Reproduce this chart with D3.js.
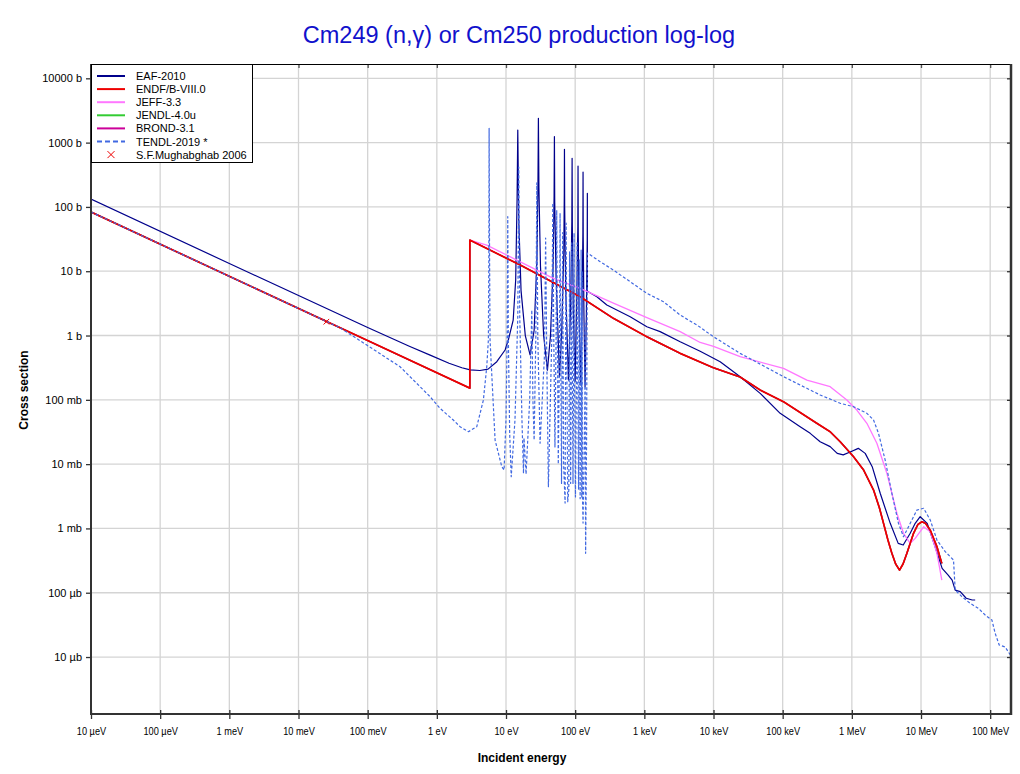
<!DOCTYPE html>
<html><head><meta charset="utf-8">
<script src="https://cdn.jsdelivr.net/npm/d3@7"></script>
<style>
body{margin:0;background:#fff;}
svg{display:block;font-family:"Liberation Sans",Arial,Helvetica,sans-serif;}
</style>
</head><body>
<svg id="chart" width="1020" height="774"></svg>
<script>
// ---------------- data ----------------
const titleText = "Cm249 (n,\u03b3) or Cm250 production log-log";
const xTickValues = [1e-5,1e-4,1e-3,1e-2,1e-1,1,1e1,1e2,1e3,1e4,1e5,1e6,1e7,1e8];
const xTickLabels = ["10 \u00b5eV","100 \u00b5eV","1 meV","10 meV","100 meV","1 eV","10 eV","100 eV","1 keV","10 keV","100 keV","1 MeV","10 MeV","100 MeV"];
const yTickValues = [1e4,1e3,1e2,1e1,1,1e-1,1e-2,1e-3,1e-4,1e-5];
const yTickLabels = ["10000 b","1000 b","100 b","10 b","1 b","100 mb","10 mb","1 mb","100 \u00b5b","10 \u00b5b"];
const legendNames = ["EAF-2010","ENDF/B-VIII.0","JEFF-3.3","JENDL-4.0u","BROND-3.1","TENDL-2019 *","S.F.Mughabghab 2006"];

// energy (eV), cross section (b)
const eaf2010 = [
 [1e-5,132],[1e-3,13.2],[0.1,1.33],[0.4,0.68],[0.8,0.495],[1.5,0.37],[2.3,0.315],[3.03,0.292],[4.2,0.286],[5.5,0.30],
 [7.36,0.392],[9.7,0.596],[10.8,0.851],[12.7,1.74],[13.8,7.3],[14.45,128],[14.8,1570],[15.3,60],[16.5,5],[19,1.0],
 [22.3,0.5],[25.5,1.2],[28,15],[29,250],[29.4,2390],[29.9,200],[31.5,12],[35,1.0],[39.7,0.29],
 [44,1.0],[48,12],[49.6,150],[50.1,1236],[50.6,120],[53,8],[59.3,0.229],
 [64,1.2],[68.5,20],[69.6,150],[70,787],[70.5,100],[73,5],[80,0.203],
 [86,3],[89.5,60],[90.3,570],[91,50],[94,2.5],[99.8,0.195],
 [105,3],[109.3,50],[110,433],[110.7,40],[114,2],[120.6,0.17],
 [126,3],[129.3,40],[130,349],[130.7,35],[134,2],[139,0.16],
 [145,2],[149.3,30],[150,163],[150.1,4.9],[206,4.01],[287,2.98],[624,1.96],[1087,1.37],[1690,1.15],
 [3296,0.80],[6412,0.57],[12480,0.392],[24300,0.229],[47300,0.126],[92000,0.0617],[179000,0.0382],
 [250000,0.0301],[348000,0.0223],[486000,0.0187],[614000,0.0147],[750000,0.0139],[946000,0.0154],
 [1.24e6,0.0176],[1.56e6,0.0147],[1.97e6,0.00912],[2.57e6,0.00352],[3.59e6,0.0012],[4.68e6,5.86e-4],
 [5.53e6,5.52e-4],[6.98e6,8.4e-4],[8.24e6,0.0012],[9.73e6,0.00152],[1.23e7,0.0012],[1.6e7,5.19e-4],
 [2.02e7,2.39e-4],[2.47e7,1.88e-4],[2.82e7,1.57e-4],[3.12e7,1.10e-4],[3.69e7,1.04e-4],[4.5e7,8.2e-5],
 [5.5e7,7.7e-5],[6.07e7,7.7e-5]
];
const endfb80 = [
 [1e-5,83.4],[1e-3,8.34],[0.1,0.834],[3.0,0.152],[3.0,30.5],[16,12.5],[118,4.01],[357,1.85],[1087,0.957],
 [3296,0.528],[1e4,0.315],[24300,0.226],[47300,0.142],[103000,0.0933],[312000,0.0431],[486000,0.0319],
 [679000,0.0223],[1.06e6,0.013],[1.48e6,0.00809],[2.06e6,0.00395],[2.5e6,0.0021],[2.87e6,0.0012],[3.3e6,6.8e-4],[3.79e6,4.1e-4],
 [4.3e6,2.8e-4],[4.89e6,2.25e-4],[5.5e6,2.8e-4],[6.25e6,4.1e-4],[7.8e6,8.4e-4],[9.0e6,1.15e-3],[1.03e7,0.00127],[1.16e7,1.2e-3],[1.36e7,9.4e-4],[1.7e7,5.2e-4],[2.0e7,2.86e-4]
];
const jeff33 = [
 [3.0,30.5],[5.27,25.5],[48.4,7.76],[118,5.42],[357,3.2],[1087,1.9],[3296,1.15],[6412,0.78],[1e4,0.68],
 [24300,0.468],[103000,0.309],[224000,0.203],[486000,0.16],[847000,0.0993],[1.18e6,0.0693],[1.65e6,0.0431],
 [2.3e6,0.0211],[3.21e6,0.0072],[4.48e6,0.00172],[5.58e6,8.4e-4],[6.98e6,5.86e-4],[8.24e6,7.0e-4],
 [1.09e7,0.00106],[1.36e7,8.9e-4],[1.7e7,4.1e-4],[2.0e7,1.57e-4]
];
const jendl40u = endfb80;   // coincides with ENDF/B-VIII.0 (hidden beneath it)
const brond31 = endfb80;    // coincides with ENDF/B-VIII.0 (hidden beneath it)
const tendl2019 = [
 [1e-5,83.4],[1e-3,8.34],[0.0399,1.32],[0.097,0.711],[0.294,0.327],[0.798,0.112],[1.11,0.0738],[1.73,0.0485],
 [2.17,0.0382],[2.86,0.0319],[3.78,0.0382],[4.71,0.0993],[5.27,0.327],[5.56,0.851],[5.65,20],[5.7,1670],
 [5.78,20],[5.88,0.85],[6.95,0.0237],[8.69,0.00912],[9.38,0.00809],
 [10.0,0.05],[10.4,1.0],[10.6,70.4],[10.8,1.0],[11.3,0.03],[11.9,0.00637],
 [13.5,0.05],[14.8,2],[15.3,418],[15.8,2],[17,0.05],[17.9,0.0072],[18.2,0.0255],[19.5,0.0070],
 [22,0.1],[23.6,2.49],[24.5,0.1],[25.5,0.0237],[27,1],[27.9,236],[28.8,1],[31.1,0.0211],
 [36,0.5],[37.4,32.8],[38.8,0.5],[41.0,0.00445],[46,1],[47.5,115],[49,1],[51,0.0185],
 [53,1],[54.1,89.5],[55.3,1],[57,0.01],[59.5,1],[60.5,80],[61.6,1],[63.5,0.005],[66,40],[68,0.01],[71.5,0.00248],
 [72.8,1],[74,55.8],[75.3,1],[78,0.0026],[81,0.004],[83,20],[86,0.005],[88.5,1],[89.4,27.5],[90.5,1],[93,0.005],
 [95.8,1],[96.5,39.3],[97.3,1],[101,0.00308],[105.8,1],[106.7,27.5],[107.6,1],[112,0.004],[114.5,15],[118,0.0029],
 [121.3,1],[122,21.4],[122.8,1],[124.5,0.003],[126,10],[127.5,0.003],[130,0.00121],
 [138,0.1],[139,1.56],[140,0.05],[141.6,4.1e-4],[146,0.02],[150,19.2],[230,14.1],[357,10.4],[624,6.87],
 [1087,4.53],[1888,3.36],[3296,2.08],[5742,1.46],[1e4,0.957],[24300,0.528],[103000,0.229],[348000,0.119],
 [679000,0.0883],[1.06e6,0.0782],[1.65e6,0.0617],[2.06e6,0.0485],[2.43e6,0.0301],[3.03e6,0.0116],
 [3.79e6,0.00352],[4.72e6,0.0012],[5.58e6,7.43e-4],[6.98e6,0.0012],[8.71e6,0.00193],[1.09e7,0.00206],
 [1.36e7,0.00135],[1.7e7,6.6e-4],[2.24e7,4.35e-4],[2.95e7,3.23e-4],[3.12e7,1.10e-4],[3.9e7,8.7e-5],
 [5.14e7,6.84e-5],[6.78e7,5.7e-5],[8.47e7,4.5e-5],[1.06e8,3.76e-5],[1.18e8,2.34e-5],[1.35e8,1.54e-5],
 [1.65e8,1.43e-5],[2.0e8,1.04e-5]
];
const mughabghab2006 = [[0.0253,1.64]];

// ---------------- layout ----------------
const W = 1020, H = 774;
const L = 91, R = 1011, T = 64, B = 714;
const svg = d3.select("#chart");
svg.append("rect").attr("width",W).attr("height",H).attr("fill","#fff");

const x = d3.scaleLog().domain([1e-5, 2e8]).range([L, R]);
const y = d3.scaleLog().domain([1.3e-6, 1.67e4]).range([B, T]);

// grid
const grid = svg.append("g");
grid.selectAll("line.gx").data(xTickValues).join("line")
  .attr("x1",d=>x(d)).attr("x2",d=>x(d)).attr("y1",T).attr("y2",B)
  .attr("stroke","#d4d4d4").attr("stroke-width",1.3);
grid.selectAll("line.gy").data(yTickValues).join("line")
  .attr("x1",L).attr("x2",R).attr("y1",d=>y(d)).attr("y2",d=>y(d))
  .attr("stroke","#d4d4d4").attr("stroke-width",1.3);

// clip
svg.append("clipPath").attr("id","plotclip").append("rect")
  .attr("x",L).attr("y",T).attr("width",R-L).attr("height",B-T);
const plot = svg.append("g").attr("clip-path","url(#plotclip)");

const line = d3.line().x(d=>x(d[0])).y(d=>y(d[1]));

const series = [
  {data:jendl40u, color:"#33cc33", w:1.4},
  {data:brond31, color:"#cc0099", w:1.4},
  {data:eaf2010, color:"#00008b", w:1.2},
  {data:jeff33, color:"#ff77ff", w:1.3},
  {data:endfb80, color:"#ee0000", w:1.7},
  {data:tendl2019, color:"#4169e1", w:1.2, dash:"3,2"}
];
series.forEach(s=>{
  plot.append("path").datum(s.data).attr("d",line)
    .attr("fill","none").attr("stroke",s.color).attr("stroke-width",s.w)
    .attr("stroke-linejoin","round")
    .attr("stroke-dasharray",s.dash||null);
});
// Mughabghab marker
plot.selectAll("path.mk").data(mughabghab2006).join("path")
  .attr("d",d=>{const cx=x(d[0]),cy=y(d[1]),r=2.8;return `M${cx-r},${cy-r}L${cx+r},${cy+r}M${cx-r},${cy+r}L${cx+r},${cy-r}`;})
  .attr("stroke","#ee0000").attr("stroke-width",1).attr("fill","none");

// axes
const yAxisL = d3.axisLeft(y).tickValues(yTickValues).tickFormat((d,i)=>yTickLabels[i]).tickSize(5).tickPadding(4);
const gyl = svg.append("g").attr("transform",`translate(${L},0)`).call(yAxisL);
gyl.select(".domain").remove();
gyl.selectAll(".tick line").attr("stroke","#333").attr("stroke-width",1.3);
gyl.selectAll(".tick text").attr("font-size",11).attr("fill","#000").attr("font-family","Liberation Sans, Arial, sans-serif");

const yAxisR = d3.axisLeft(y).tickValues(yTickValues).tickFormat("").tickSize(4);
const gyr = svg.append("g").attr("transform",`translate(${R},0)`).call(yAxisR);
gyr.select(".domain").remove();
gyr.selectAll(".tick line").attr("stroke","#333").attr("stroke-width",1.3).attr("x2",-4);

const xAxisB = d3.axisBottom(x).tickValues(xTickValues).tickFormat((d,i)=>xTickLabels[i]).tickSize(5).tickPadding(8);
const gxb = svg.append("g").attr("transform",`translate(0,${B})`).call(xAxisB);
gxb.select(".domain").remove();
gxb.selectAll(".tick line").attr("stroke","#333").attr("stroke-width",1.3).attr("y1",-4);
gxb.selectAll(".tick text").attr("font-size",11.5).attr("fill","#000")
  .attr("font-family","Liberation Sans, Arial, sans-serif")
  .attr("transform","scale(0.8,1)");

const xAxisT = d3.axisTop(x).tickValues(xTickValues).tickFormat("").tickSize(0);
const gxt = svg.append("g").attr("transform",`translate(0,${T})`).call(xAxisT);
gxt.select(".domain").remove();
gxt.selectAll(".tick line").attr("stroke","#555").attr("stroke-width",1.3).attr("y1",0).attr("y2",4);

// frame
svg.append("line").attr("x1",L).attr("x2",R).attr("y1",T+0.5).attr("y2",T+0.5).attr("stroke","#000").attr("stroke-width",1);
svg.append("line").attr("x1",L).attr("x2",L).attr("y1",T).attr("y2",B+1).attr("stroke","#333").attr("stroke-width",2);
svg.append("line").attr("x1",L-1).attr("x2",R+1).attr("y1",B).attr("y2",B).attr("stroke","#333").attr("stroke-width",2);
svg.append("line").attr("x1",R).attr("x2",R).attr("y1",T).attr("y2",B+1).attr("stroke","#333").attr("stroke-width",2.5);

// title & axis titles
svg.append("text").attr("x",519).attr("y",43).attr("text-anchor","middle")
  .attr("font-size",23.5).attr("fill","#1111cc").text(titleText);
svg.append("text").attr("x",522).attr("y",762).attr("text-anchor","middle")
  .attr("font-size",12).attr("font-weight","bold").attr("fill","#000").text("Incident energy");
svg.append("text").attr("transform","translate(28,390) rotate(-90)").attr("text-anchor","middle")
  .attr("font-size",12).attr("font-weight","bold").attr("fill","#000").text("Cross section");

// legend
const lg = svg.append("g");
lg.append("rect").attr("x",91.5).attr("y",64.5).attr("width",161).attr("height",98)
  .attr("fill","#fff").attr("stroke","#000").attr("stroke-width",1);
const legendStyles = [
  {color:"#00008b"},{color:"#ee0000"},{color:"#ff77ff"},{color:"#33cc33"},{color:"#cc0099"},
  {color:"#4169e1",dash:"5,3"},{color:"#ee0000",marker:true}
];
legendNames.forEach((n,i)=>{
  const yy = 76 + i*13.1;
  const st = legendStyles[i];
  if(st.marker){
    const cx=111, r=3.5;
    lg.append("path").attr("d",`M${cx-r},${yy-r}L${cx+r},${yy+r}M${cx-r},${yy+r}L${cx+r},${yy-r}`)
      .attr("stroke",st.color).attr("stroke-width",1).attr("fill","none");
  } else {
    lg.append("line").attr("x1",97).attr("x2",125).attr("y1",yy).attr("y2",yy)
      .attr("stroke",st.color).attr("stroke-width",2).attr("stroke-dasharray",st.dash||null);
  }
  lg.append("text").attr("x",136).attr("y",yy+4).attr("font-size",11).attr("fill","#000").text(n);
});
</script>
</body></html>
